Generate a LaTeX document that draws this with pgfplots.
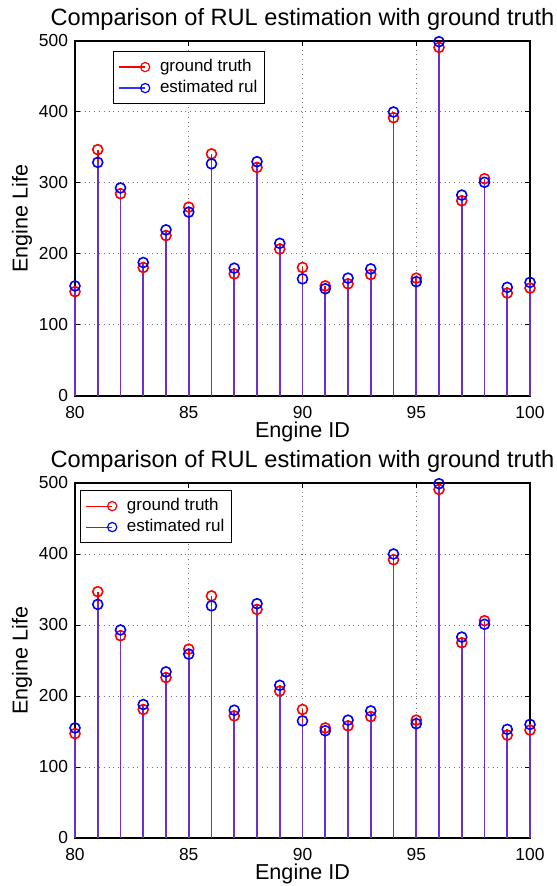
\documentclass[border=0pt]{standalone}
\usepackage{fontspec}
\setmainfont{Liberation Sans}
\usepackage{pgfplots}
\usepackage{pgfplotstable}
\pgfplotsset{compat=1.18}

\definecolor{stemviolet}{RGB}{110,45,205}

% engine id, ground truth RUL, estimated RUL
\pgfplotstableread{
id  gt   est
80  147  155
81  347  329
82  285  293
83  181  188
84  226  234
85  266  259
86  341  327
87  172  180
88  322  330
89  207  215
90  181  165
91  155  151
92  158  166
93  171  179
94  392  400
95  166  161
96  491  499
97  275  283
98  306  301
99  145  153
100 152  160
}\rul

\pgfplotsset{rulaxis/.style={
  scale only axis, width=227.5pt, height=177.5pt,
  xmin=80, xmax=100, ymin=0, ymax=500,
  xtick={80,85,...,100}, ytick={0,100,...,500},
  grid=major, major grid style={dotted, black!55, line width=0.5pt},
  tick align=inside, major tick length=2.5pt,
  tick style={black, line width=0.5pt},
  axis line style={black, line width=0.8pt},
  tick label style={font=\fontsize{8.7}{10}\selectfont},
  xticklabel style={yshift=-1.5pt},
  label style={font=\fontsize{10.8}{12}\selectfont},
  xlabel style={at={(axis description cs:0.5,0)}, anchor=center, yshift=-18pt},
  ylabel style={at={(axis description cs:0,0.5)}, anchor=center, yshift=26.5pt},
  every axis title shift=0pt,
  title style={font=\fontsize{11.8}{13}\selectfont,
    at={(axis description cs:0.5,1)}, anchor=center, yshift=11pt},
  title={Comparison of RUL estimation with ground truth},
  xlabel={Engine ID}, ylabel={Engine Life},
  /pgf/number format/assume math mode=true,
  clip=false,
  legend cell align=left,
  legend style={font=\fontsize{8.5}{10}\selectfont, draw=black, line width=0.6pt,
    anchor=north west, inner sep=2.5pt,
    nodes={inner sep=1pt, text height=6.5pt, text depth=2pt}},
}}

\pgfplotsset{
  gtplot/.style={red, ycomb, mark=o, mark size=2.5pt, line width=0.8pt,
    legend image code/.code={\draw[draw=red, line width=0.6pt] (0pt,0pt) -- (13pt,0pt);
      \draw[draw=red, line width=0.6pt] (13pt,0pt) circle (2.3pt);
      \path (19pt,0pt);}},
  estplot/.style={stemviolet, ycomb, mark=o, mark size=2.5pt, line width=0.8pt,
    mark options={blue},
    legend image code/.code={\draw[draw=blue!80, line width=0.6pt] (0pt,0pt) -- (13pt,0pt);
      \draw[draw=blue, line width=0.6pt] (13pt,0pt) circle (2.3pt);
      \path (19pt,0pt);}},
}

\begin{document}
\begin{tikzpicture}
\path[use as bounding box] (-37.5pt,-245pt) rectangle (240.5pt,198pt);

\begin{axis}[rulaxis, at={(0pt,0pt)},
  legend style={at={(rel axis cs:0,1)}, xshift=19pt, yshift=-5pt}]
\addplot[gtplot] table[x=id, y=gt] {\rul};
\addlegendentry{ground truth}
\addplot[estplot] table[x=id, y=est] {\rul};
\addlegendentry{estimated rul}
\end{axis}

\begin{axis}[rulaxis, at={(0pt,-221pt)},
  legend style={at={(rel axis cs:0,1)}, xshift=2.5pt, yshift=-3.5pt}]
\addplot[gtplot] table[x=id, y=gt] {\rul};
\addlegendentry{ground truth}
\addplot[estplot] table[x=id, y=est] {\rul};
\addlegendentry{estimated rul}
\end{axis}
\end{tikzpicture}
\end{document}
